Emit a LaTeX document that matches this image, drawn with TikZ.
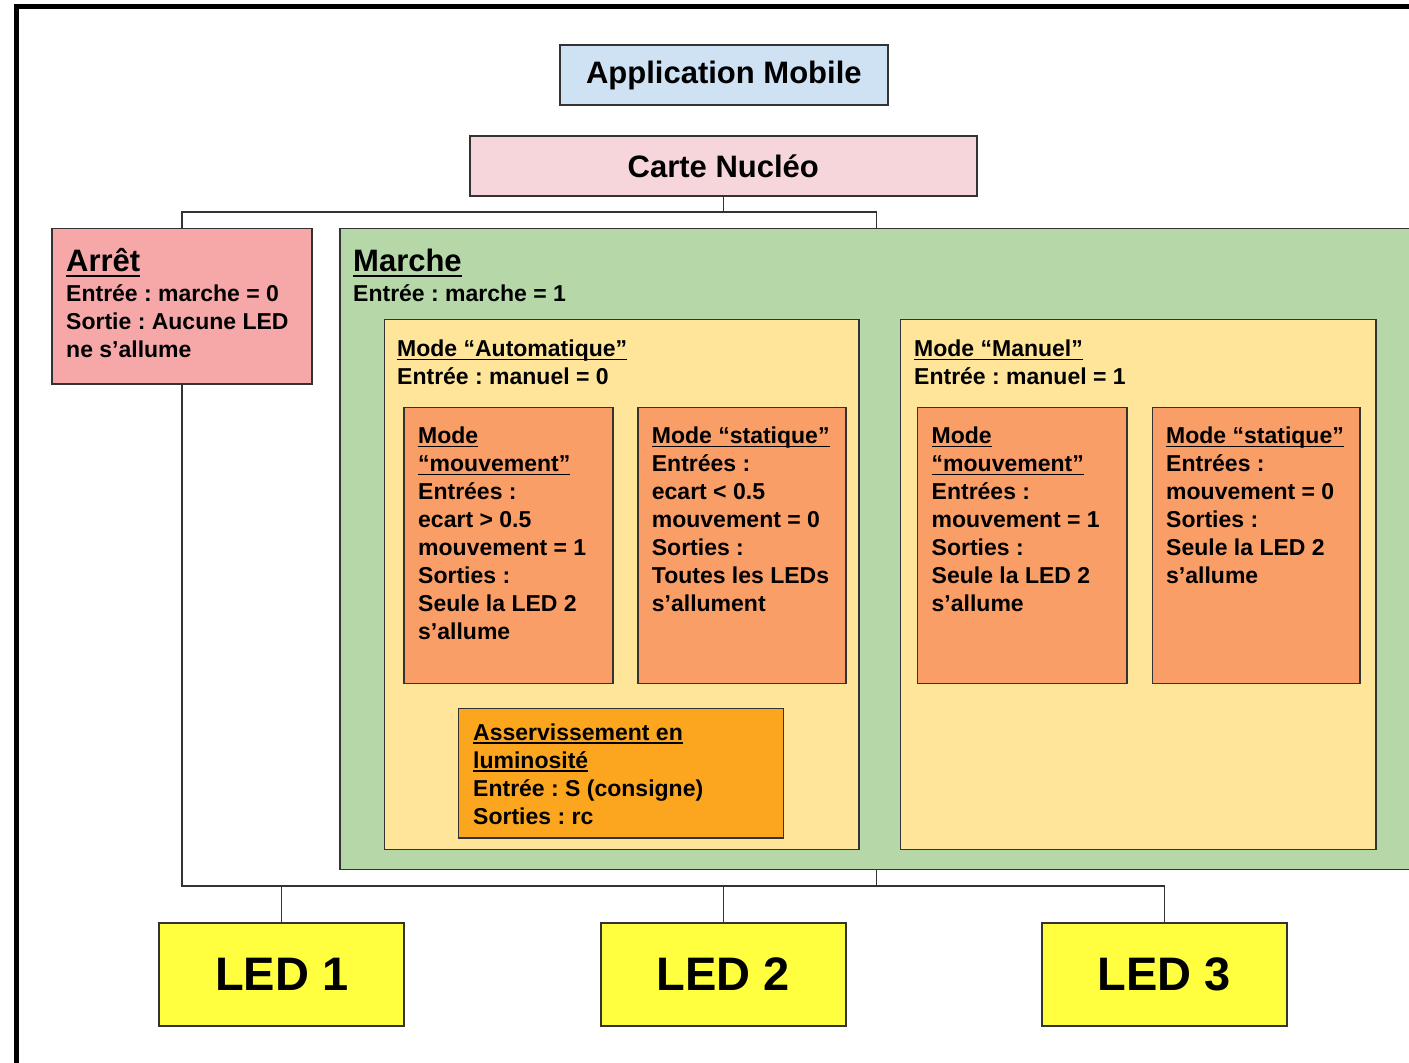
\documentclass[tikz,border=0pt]{standalone}
\usepackage{fontspec}
\setmainfont{Liberation Sans}
\frenchspacing

\definecolor{bordure}{RGB}{51,51,51}
\definecolor{bleu}{RGB}{207,226,243}
\definecolor{rose}{RGB}{246,214,218}
\definecolor{rouge}{RGB}{246,168,168}
\definecolor{vert}{RGB}{182,215,168}
\definecolor{creme}{RGB}{255,229,153}
\definecolor{saumon}{RGB}{250,158,104}
\definecolor{orangevif}{RGB}{252,166,32}
\definecolor{jaune}{RGB}{255,255,64}

\newcommand{\souligne}[1]{\leavevmode{\setbox0=\hbox{#1}\rlap{\rule[-0.16em]{\wd0}{0.07em}}\box0}}
\newcommand{\titre}[1]{{\fontsize{31}{37}\selectfont\rule{0pt}{26pt}\souligne{#1}}}
\newcommand{\debut}{\rule{0pt}{20pt}}

\tikzset{
	boite/.style={draw=bordure, line width=1.6pt, inner sep=0pt},
	texte/.style={anchor=north west, inner sep=0pt, align=left, font=\fontsize{23}{28}\selectfont\bfseries},
	grand/.style={font=\fontsize{31}{37}\selectfont\bfseries},
	led/.style={boite, fill=jaune, minimum width=245pt, minimum height=103pt, font=\fontsize{47}{56}\selectfont\bfseries},
	lien/.style={draw=bordure, line width=1.4pt},
}

\begin{document}
\begin{tikzpicture}[x=1pt,y=-1pt]
	\useasboundingbox (0,0) rectangle (1409,1063);
	\fill[white] (0,0) rectangle (1409,1063);
	\draw[line width=5pt] (16.5,1075) -- (16.5,6) -- (1420,6);

	\node[boite, grand, fill=bleu, minimum width=327.7pt, minimum height=60pt] (appli) at (723.85,75) {Application Mobile};
	\node[boite, grand, fill=rose, minimum width=506.7pt, minimum height=60pt] (carte) at (723.35,166) {Carte Nucléo};

	\node[boite, fill=rouge, minimum width=260pt, minimum height=155.7pt] (arret) at (182,306.2) {};
	\node[boite, fill=vert, minimum width=1073pt, minimum height=641pt] (marche) at (876.5,548.8) {};
	\node[boite, fill=creme, minimum width=474.5pt, minimum height=529.8pt] (auto) at (621.75,584.4) {};
	\node[boite, fill=creme, minimum width=475.5pt, minimum height=529.8pt] (manuel) at (1138.25,584.4) {};
	\node[boite, fill=saumon, minimum width=208.7pt, minimum height=276pt] (automvt) at (508.35,545.3) {};
	\node[boite, fill=saumon, minimum width=208.3pt, minimum height=276pt] (autostat) at (741.85,545.3) {};
	\node[boite, fill=saumon, minimum width=209.4pt, minimum height=276pt] (manmvt) at (1022,545.3) {};
	\node[boite, fill=saumon, minimum width=207.7pt, minimum height=276pt] (manstat) at (1256.15,545.3) {};
	\node[boite, fill=orangevif, minimum width=325pt, minimum height=129.4pt] (asserv) at (620.8,773) {};

	\node[texte] (arrettxt) at (66,245.7) {\titre{Arrêt}\\[2pt] Entrée : marche = 0\\ Sortie : Aucune LED\\ ne s’allume};
	\node[texte] (marchetxt) at (353,245.7) {\titre{Marche}\\[2pt] Entrée : marche = 1};
	\node[texte] (autotxt) at (397,336.5) {\debut\souligne{Mode “Automatique”}\\ Entrée : manuel = 0};
	\node[texte] (manueltxt) at (914,336.5) {\debut\souligne{Mode “Manuel”}\\ Entrée : manuel = 1};
	\node[texte] (automvttxt) at (418,423.3) {\debut\souligne{Mode}\\ \souligne{“mouvement”}\\ Entrées :\\ ecart > 0.5\\ mouvement = 1\\ Sorties :\\ Seule la LED 2\\ s’allume};
	\node[texte] (autostattxt) at (651.7,423.3) {\debut\souligne{Mode “statique”}\\ Entrées :\\ ecart < 0.5\\ mouvement = 0\\ Sorties :\\ Toutes les LEDs\\ s’allument};
	\node[texte] (manmvttxt) at (931.5,423.3) {\debut\souligne{Mode}\\ \souligne{“mouvement”}\\ Entrées :\\ mouvement = 1\\ Sorties :\\ Seule la LED 2\\ s’allume};
	\node[texte] (manstattxt) at (1166,423.3) {\debut\souligne{Mode “statique”}\\ Entrées :\\ mouvement = 0\\ Sorties :\\ Seule la LED 2\\ s’allume};
	\node[texte] (asservtxt) at (473,720) {\debut\souligne{Asservissement en}\\ \souligne{luminosité}\\ Entrée : S (consigne)\\ Sorties : rc};

	\node[led] (led1) at (281.65,974.2) {LED 1};
	\node[led] (led2) at (723.25,974.2) {LED 2};
	\node[led] (led3) at (1164.3,974.2) {LED 3};

	\coordinate (haut) at (723.35,212);
	\coordinate (bas) at (876.5,886);
	\draw[lien] (carte.south) -- (haut);
	\draw[lien] (arret.north) |- (haut) -| (marche.north);
	\draw[lien] (marche.south) -- (bas);
	\draw[lien] (arret.south) |- (bas) -| (led3.north);
	\draw[lien] (led1.north) -- (led1.north |- bas);
	\draw[lien] (led2.north) -- (led2.north |- bas);
\end{tikzpicture}
\end{document}
